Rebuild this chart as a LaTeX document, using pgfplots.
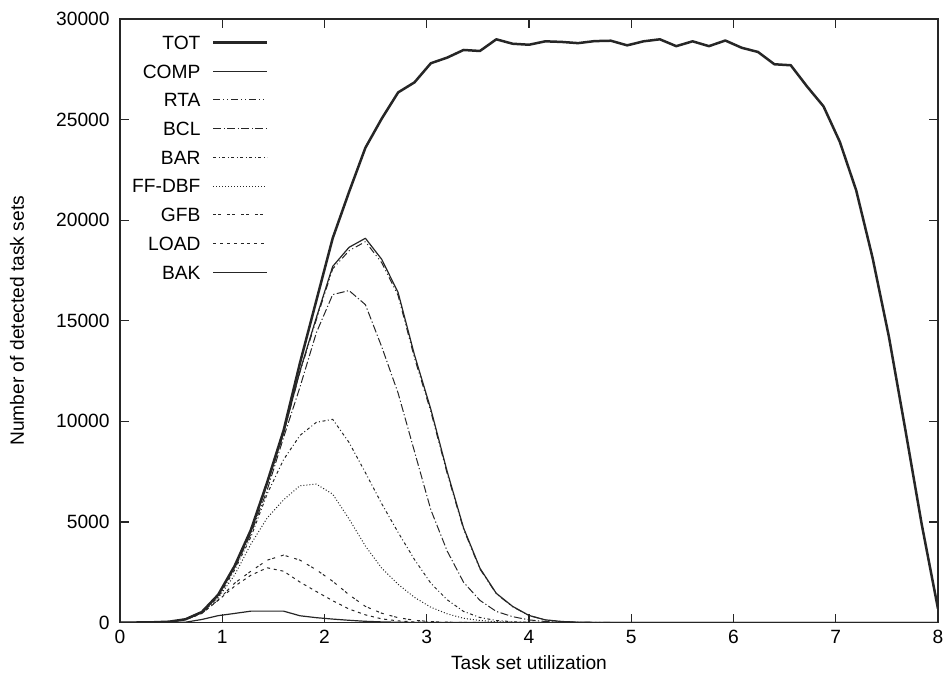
\documentclass[border=0pt]{standalone}
\usepackage{fontspec}
\setmainfont{Liberation Sans}
\usepackage{pgfplots}
\pgfplotsset{compat=1.18}
\usepackage{pgfplotstable}

% detected task sets per test, utilization step 0.16
\pgfplotstableread{
x    TOT   COMP  RTA   BCL   BAR   FFDBF GFB  LOAD BAK
0.00 0     0     0     0     0     0     0    0    0
0.16 0     0     0     0     0     0     0    0    0
0.32 10    10    10    10    10    10    8    8    0
0.48 40    40    40    40    38    38    35   35   0
0.64 160   158   158   155   150   148   140  140  15
0.80 520   515   515   505   480   470   450  450  150
0.96 1380  1370  1368  1340  1260  1220  1120 1100 340
1.12 2800  2780  2775  2700  2600  2350  1950 1800 450
1.28 4600  4560  4550  4400  4250  3900  2550 2350 565
1.44 6980  6900  6890  6600  6400  5200  3100 2720 565
1.60 9550  9420  9400  9200  8100  6100  3350 2550 565
1.76 12900 12500 12450 11700 9300  6800  3100 2010 335
1.92 16000 15150 15050 14400 9950  6880  2620 1540 240
2.08 19100 17700 17580 16300 10100 6380  2050 1085 170
2.24 21400 18650 18480 16500 8950  5150  1380 670  110
2.40 23600 19100 18930 15800 7450  3800  800  380  60
2.56 25050 18050 17880 13700 5900  2700  460  180  30
2.72 26350 16400 16250 11400 4480  1900  240  80   12
2.88 26850 13300 13150 8500  3130  1250  110  30   5
3.04 27800 10600 10480 5600  1950  760   45   10   0
3.20 28080 7500  7400  3550  1130  430   15   0    0
3.36 28460 4700  4640  2000  550   210   5    0    0
3.52 28410 2700  2660  1100  250   100   0    0    0
3.68 28990 1450  1430  550   100   40    0    0    0
3.84 28770 800   785   290   40    15    0    0    0
4.00 28720 350   345   130   10    5     0    0    0
4.16 28890 130   128   50    0     0     0    0    0
4.32 28860 50    48    15    0     0     0    0    0
4.48 28800 15    14    5     0     0     0    0    0
4.64 28900 5     5     0     0     0     0    0    0
4.80 28920 0     0     0     0     0     0    0    0
4.96 28690 0     0     0     0     0     0    0    0
5.12 28890 0     0     0     0     0     0    0    0
5.28 28990 0     0     0     0     0     0    0    0
5.44 28650 0     0     0     0     0     0    0    0
5.60 28890 0     0     0     0     0     0    0    0
5.76 28650 0     0     0     0     0     0    0    0
5.92 28930 0     0     0     0     0     0    0    0
6.08 28570 0     0     0     0     0     0    0    0
6.24 28360 0     0     0     0     0     0    0    0
6.40 27750 0     0     0     0     0     0    0    0
6.56 27700 0     0     0     0     0     0    0    0
6.72 26640 0     0     0     0     0     0    0    0
6.88 25660 0     0     0     0     0     0    0    0
7.04 23890 0     0     0     0     0     0    0    0
7.20 21480 0     0     0     0     0     0    0    0
7.36 18130 0     0     0     0     0     0    0    0
7.52 14200 0     0     0     0     0     0    0    0
7.68 9600  0     0     0     0     0     0    0    0
7.84 4900  0     0     0     0     0     0    0    0
8.00 680   0     0     0     0     0     0    0    0
}\tests

\begin{document}
\fontsize{9.6}{11.5}\selectfont
\begin{tikzpicture}
\useasboundingbox (-60pt,-28.25pt) rectangle (412.5pt,311.25pt);
\begin{axis}[
    scale only axis, width=409pt, height=301.75pt,
    xmin=0, xmax=8, ymin=0, ymax=30000,
    xtick={0,...,8}, ytick={0,5000,...,30000},
    scaled y ticks=false,
    /pgf/number format/1000 sep={},
    /pgf/number format/assume math mode=true,
    tick align=inside, major tick length=4.5pt,
    axis line style={line width=0.9pt, black!85},
    every tick/.style={black!85, line width=0.6pt},
    yticklabel style={inner sep=0pt, xshift=-5pt},
    xticklabel style={inner sep=0pt, yshift=-3.5pt},
    xlabel={Task set utilization},
    ylabel={Number of detected task sets},
    xlabel style={at={(axis description cs:0.5,-0.07705)}, anchor=base, inner sep=0pt},
    ylabel style={at={(axis description cs:-0.1174,0.5)}, anchor=base, inner sep=0pt},
    legend cell align=right,
    legend plot pos=right,
    legend style={draw=none, fill=none, at={(axis description cs:0,1)},
        anchor=north west, xshift=5.9pt, yshift=-8.15pt, inner sep=0pt,
        row sep=7.45pt, column sep=5.85pt,
        nodes={inner sep=0pt, text height=6.9pt, text depth=0pt}},
    legend image code/.code={\draw[#1] (0pt,0pt) -- (27pt,0pt);},
    every axis plot/.append style={line join=round, black!85},
]
\addplot[line width=1.25pt] table[x=x, y=TOT] {\tests};
\addplot[line width=0.6pt] table[x=x, y=COMP] {\tests};
\addplot[line width=0.5pt, dash pattern=on 3.5pt off 1.5pt on 0.5pt off 1.5pt on 0.5pt off 1.5pt] table[x=x, y=RTA] {\tests};
\addplot[line width=0.5pt, dash pattern=on 4pt off 1.2pt on 0.6pt off 1.2pt] table[x=x, y=BCL] {\tests};
\addplot[line width=0.5pt, dash pattern=on 1.5pt off 1.2pt on 0.5pt off 1.3pt] table[x=x, y=BAR] {\tests};
\addplot[line width=0.5pt, dash pattern=on 0.5pt off 1pt] table[x=x, y=FFDBF] {\tests};
\addplot[line width=0.5pt, dash pattern=on 1.5pt off 1pt on 1.5pt off 3pt] table[x=x, y=GFB] {\tests};
\addplot[line width=0.5pt, dash pattern=on 1.5pt off 1.9pt] table[x=x, y=LOAD] {\tests};
\addplot[line width=0.6pt] table[x=x, y=BAK] {\tests};
\legend{TOT,COMP,RTA,BCL,BAR,FF-DBF,GFB,LOAD,BAK}
\end{axis}
\end{tikzpicture}
\end{document}
